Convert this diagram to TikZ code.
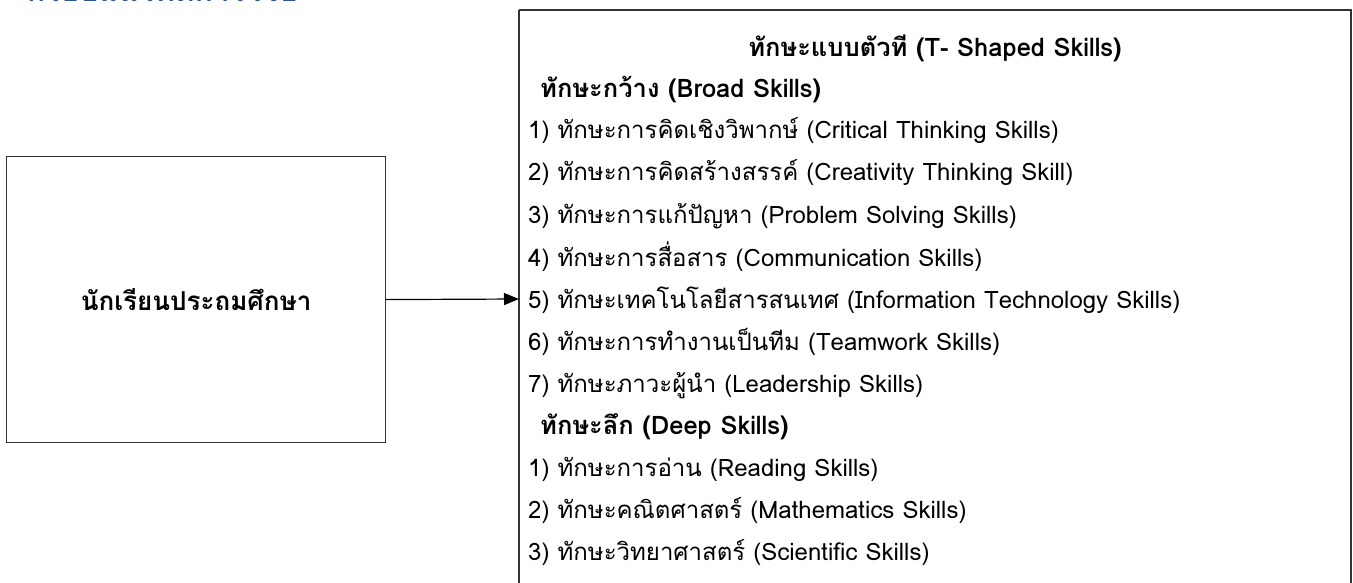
\documentclass[tikz,border=0pt]{standalone}
\usepackage{fontspec}
\setmainfont[Script=Thai]{Loma}
\usetikzlibrary{arrows.meta}
\definecolor{headblue}{HTML}{2F5496}
\tikzset{
  box/.style={draw=black!80, line width=1.2pt},
  item/.style={anchor=base west, inner sep=0pt, font=\fontsize{24}{28}\selectfont},
  head/.style={item, font=\fontsize{25.5}{30}\selectfont\bfseries},
  conn/.style={line width=1.2pt, -{Triangle[length=15pt,width=12pt]}}
}
\begin{document}
\begin{tikzpicture}[x=1pt,y=-1pt]
\useasboundingbox (0,0) rectangle (1353,583);
\begin{scope}
\clip (0,0) rectangle (1353,583);
\node[anchor=base west, inner sep=0pt, text=headblue, font=\fontsize{30}{34}\selectfont\bfseries] (title) at (27,1.8) {กรอบแนวคิดการวิจัย};
\draw[box] (519,10) -- (1351,10) -- (1351,600);
\draw[box] (519,10) -- (519,600);
\end{scope}
\node[box, minimum width=379pt, minimum height=286pt, anchor=north west, font=\fontsize{26}{30}\selectfont\bfseries] (student) at (6,156) {นักเรียนประถมศึกษา};
\coordinate (rb) at (519,299);
\draw[conn] (student.east) -- (rb);
\node[head, anchor=base] (t) at (935,57) {ทักษะแบบตัวที (T- Shaped Skills)};
\node[head] (b) at (540,98) {ทักษะกว้าง (Broad Skills)};
\node[item] (b1) at (528,139) {1) ทักษะการคิดเชิงวิพากษ์ (Critical Thinking Skills)};
\node[item] (b2) at (528,181) {2) ทักษะการคิดสร้างสรรค์ (Creativity Thinking Skill)};
\node[item] (b3) at (528,223) {3) ทักษะการแก้ปัญหา (Problem Solving Skills)};
\node[item] (b4) at (528,266) {4) ทักษะการสื่อสาร (Communication Skills)};
\node[item] (b5) at (528,308) {5) ทักษะเทคโนโลยีสารสนเทศ (Information Technology Skills)};
\node[item] (b6) at (528,350) {6) ทักษะการทำงานเป็นทีม (Teamwork Skills)};
\node[item] (b7) at (528,392) {7) ทักษะภาวะผู้นำ (Leadership Skills)};
\node[head] (d) at (540,434) {ทักษะลึก (Deep Skills)};
\node[item] (d1) at (528,476) {1) ทักษะการอ่าน (Reading Skills)};
\node[item] (d2) at (528,518) {2) ทักษะคณิตศาสตร์ (Mathematics Skills)};
\node[item] (d3) at (528,560) {3) ทักษะวิทยาศาสตร์ (Scientific Skills)};
\end{tikzpicture}
\end{document}
